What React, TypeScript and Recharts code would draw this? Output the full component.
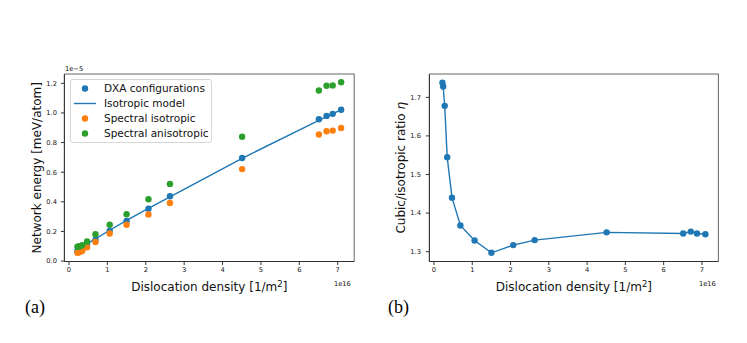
import React from 'react';
import { ComposedChart, Line, Scatter, XAxis, YAxis, ReferenceArea } from 'recharts';

// dislocation density, units of 1e16 1/m^2
const DENSITY = [0.22, 0.24, 0.28, 0.345, 0.47, 0.69, 1.06, 1.5, 2.07, 2.63, 4.51, 6.51, 6.71, 6.87, 7.09];

// network energy, units of 1e-5 meV/atom
const DXA_ENERGY = [0.068, 0.072, 0.079, 0.089, 0.11, 0.143, 0.204, 0.27, 0.354, 0.438, 0.696, 0.957, 0.98, 0.994, 1.022];
const MODEL_ENERGY = [0.066, 0.071, 0.08, 0.093, 0.116, 0.15, 0.208, 0.275, 0.356, 0.434, 0.694, 0.95, 0.975, 0.994, 1.023];
const SPECTRAL_ISO = [0.055, 0.057, 0.061, 0.07, 0.093, 0.129, 0.186, 0.245, 0.315, 0.392, 0.621, 0.855, 0.876, 0.881, 0.899];
const SPECTRAL_ANISO = [0.097, 0.097, 0.1, 0.107, 0.132, 0.181, 0.245, 0.316, 0.417, 0.521, 0.839, 1.152, 1.184, 1.186, 1.207];

// cubic / isotropic ratio
const RATIO = [1.738, 1.728, 1.678, 1.545, 1.44, 1.368, 1.329, 1.297, 1.317, 1.33, 1.35, 1.347, 1.352, 1.347, 1.345];

const X_TICKS = [0, 1, 2, 3, 4, 5, 6, 7];
const ENERGY_TICKS = [0, 0.2, 0.4, 0.6, 0.8, 1.0, 1.2];
const RATIO_TICKS = [1.3, 1.4, 1.5, 1.6, 1.7];

const LEGEND_ITEMS = [
    { name: 'DXA configurations', color: '#1f77b4', kind: 'dot' },
    { name: 'Isotropic model', color: '#1f77b4', kind: 'line' },
    { name: 'Spectral isotropic', color: '#ff7f0e', kind: 'dot' },
    { name: 'Spectral anisotropic', color: '#2ca02c', kind: 'dot' },
];

const BLUE = '#1f77b4';
const ORANGE = '#ff7f0e';
const GREEN = '#2ca02c';
const FONT = '"DejaVu Sans", sans-serif';
const X_DOMAIN: [number, number] = [-0.12, 7.43];
const E_DOMAIN: [number, number] = [-0.003, 1.263];
const R_DOMAIN: [number, number] = [1.2745, 1.7605];

const energyRows = DENSITY.map((x, i) => ({
    x,
    dxa: DXA_ENERGY[i],
    model: MODEL_ENERGY[i],
    iso: SPECTRAL_ISO[i],
    aniso: SPECTRAL_ANISO[i],
}));
const ratioRows = DENSITY.map((x, i) => ({ x, ratio: RATIO[i] }));

const tickStyle = { fontSize: 6.7, fill: '#111', fontFamily: FONT };

const dot = (color: string) => (p: any) => <circle cx={p.cx} cy={p.cy} r={3.2} fill={color} />;

const XLabel = ({ viewBox }: any) => (
    <text x={viewBox.x + viewBox.width / 2} y={viewBox.y + 29.5} textAnchor="middle" fontSize={12} fontFamily={FONT} fill="#111">
        Dislocation density [1/m<tspan dy={-4.5} fontSize={8.5}>2</tspan><tspan dy={4.5}>]</tspan>
    </text>
);

const yLabel = (offset: number, body: React.ReactNode) => ({ viewBox }: any) => {
    const cx = viewBox.x + offset;
    const cy = viewBox.y + viewBox.height / 2;
    return (
        <text x={cx} y={cy} transform={`rotate(-90, ${cx}, ${cy})`} textAnchor="middle" dominantBaseline="central" fontSize={12} fontFamily={FONT} fill="#111">
            {body}
        </text>
    );
};

const Legend = () => (
    <div style={{
        position: 'absolute', left: 70, top: 79, width: 140, height: 62,
        border: '1px solid #d6d6d6', borderRadius: 3, background: 'rgba(255,255,255,0.8)',
    }}>
        {LEGEND_ITEMS.map((item, i) => (
            <div key={item.name} style={{ position: 'absolute', left: 0, top: 1 + i * 15, height: 15, width: 140 }}>
                <svg width={30} height={15} style={{ position: 'absolute', left: 0, top: 0 }}>
                    {item.kind === 'dot'
                        ? <circle cx={14} cy={7.5} r={3.2} fill={item.color} />
                        : <line x1={3} x2={25} y1={7.5} y2={7.5} stroke={item.color} strokeWidth={1.4} />}
                </svg>
                <span style={{
                    position: 'absolute', left: 33, top: 0, lineHeight: '15px',
                    fontSize: 10.5, fontFamily: FONT, color: '#111', whiteSpace: 'nowrap',
                }}>{item.name}</span>
            </div>
        ))}
    </div>
);

const small = { position: 'absolute' as const, fontSize: 6.7, fontFamily: FONT, color: '#111', lineHeight: '8px' };
const panel = { position: 'absolute' as const, fontSize: 18, fontFamily: '"Liberation Serif", serif', color: '#000', lineHeight: '20px' };

export default function App() {
    return (
        <div style={{ position: 'absolute', left: 0, top: 0, width: 747, height: 343, background: '#fff', overflow: 'hidden' }}>
            <div style={{ position: 'absolute', left: 0, top: 0 }}>
                <ComposedChart width={373} height={343} data={energyRows} margin={{ top: 74, right: 18.8, bottom: 51.5, left: 24.4 }}>
                    <XAxis dataKey="x" type="number" domain={X_DOMAIN} ticks={X_TICKS} allowDataOverflow
                        height={30} tickSize={3.5} tickMargin={2} tick={tickStyle}
                        axisLine={{ stroke: '#333' }} tickLine={{ stroke: '#333' }} label={{ content: XLabel }} />
                    <YAxis type="number" domain={E_DOMAIN} ticks={ENERGY_TICKS} allowDataOverflow
                        width={40} tickSize={3.5} tickMargin={4} tick={tickStyle}
                        tickFormatter={(v: number) => v.toFixed(1)}
                        axisLine={{ stroke: '#333' }} tickLine={{ stroke: '#333' }}
                        label={{ content: yLabel(12.6, 'Network energy [meV/atom]') }} />
                    <ReferenceArea x1={X_DOMAIN[0]} x2={X_DOMAIN[1]} y1={E_DOMAIN[0]} y2={E_DOMAIN[1]}
                        fill="none" stroke="#555" strokeWidth={0.9} fillOpacity={0} />
                    <Scatter dataKey="dxa" fill={BLUE} shape={dot(BLUE)} isAnimationActive={false} />
                    <Line dataKey="model" stroke={BLUE} strokeWidth={1.4} dot={false} isAnimationActive={false} type="linear" />
                    <Scatter dataKey="iso" fill={ORANGE} shape={dot(ORANGE)} isAnimationActive={false} />
                    <Scatter dataKey="aniso" fill={GREEN} shape={dot(GREEN)} isAnimationActive={false} />
                </ComposedChart>
            </div>
            <Legend />
            <div style={{ ...small, left: 65, top: 65 }}>1e−5</div>
            <div style={{ ...small, left: 334, top: 280 }}>1e16</div>
            <div style={{ ...panel, left: 25, top: 297 }}>(a)</div>

            <div style={{ position: 'absolute', left: 373, top: 0 }}>
                <ComposedChart width={374} height={343} data={ratioRows} margin={{ top: 74, right: 28.6, bottom: 51.5, left: 16.4 }}>
                    <XAxis dataKey="x" type="number" domain={X_DOMAIN} ticks={X_TICKS} allowDataOverflow
                        height={30} tickSize={3.5} tickMargin={2} tick={tickStyle}
                        axisLine={{ stroke: '#333' }} tickLine={{ stroke: '#333' }} label={{ content: XLabel }} />
                    <YAxis type="number" domain={R_DOMAIN} ticks={RATIO_TICKS} allowDataOverflow
                        width={40} tickSize={3.5} tickMargin={5} tick={tickStyle}
                        tickFormatter={(v: number) => v.toFixed(1)}
                        axisLine={{ stroke: '#333' }} tickLine={{ stroke: '#333' }}
                        label={{ content: yLabel(11.6, <>Cubic/isotropic ratio <tspan fontStyle="italic">η</tspan></>) }} />
                    <ReferenceArea x1={X_DOMAIN[0]} x2={X_DOMAIN[1]} y1={R_DOMAIN[0]} y2={R_DOMAIN[1]}
                        fill="none" stroke="#555" strokeWidth={0.9} fillOpacity={0} />
                    <Line dataKey="ratio" stroke={BLUE} strokeWidth={1.4} type="linear" isAnimationActive={false}
                        dot={{ r: 3.2, fill: BLUE, stroke: 'none' }} />
                </ComposedChart>
            </div>
            <div style={{ ...small, left: 699, top: 280 }}>1e16</div>
            <div style={{ ...panel, left: 388, top: 297 }}>(b)</div>
        </div>
    );
}
